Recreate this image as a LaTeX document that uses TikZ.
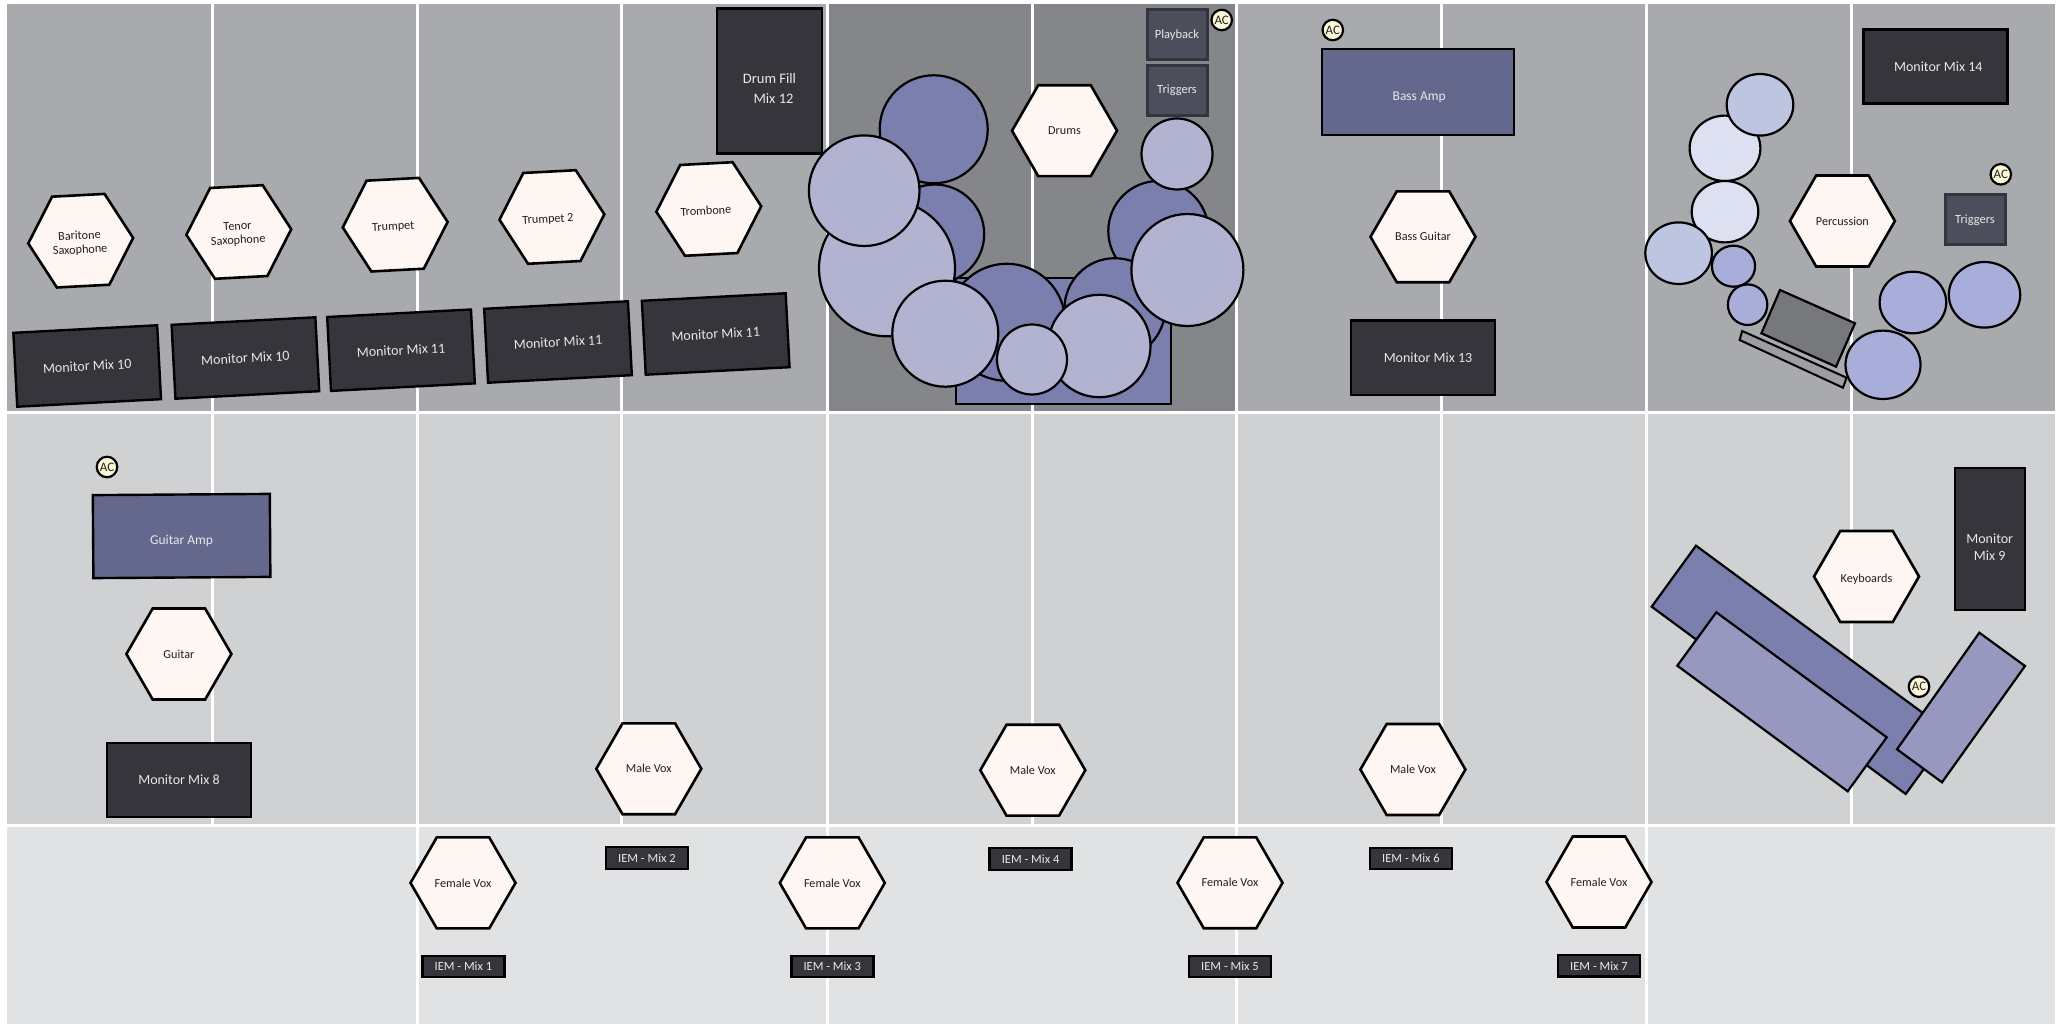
\documentclass[tikz,border=0pt]{standalone}
\usepackage{fontspec}
\setmainfont{Carlito}
\usetikzlibrary{shapes.geometric}
\definecolor{rowA}{HTML}{A9AAAD}
\definecolor{rowD}{HTML}{85868A}
\definecolor{rowB}{HTML}{D0D1D3}
\definecolor{rowC}{HTML}{E1E2E4}
\definecolor{hexfill}{HTML}{FDF6F2}
\definecolor{mon}{HTML}{37353C}
\definecolor{ampc}{HTML}{65688D}
\definecolor{trig}{HTML}{4C4F5B}
\definecolor{trigb}{HTML}{34343C}
\definecolor{acfill}{HTML}{FBF8D8}
\definecolor{drumd}{HTML}{7B7FAE}
\definecolor{druml}{HTML}{B1B3D1}
\definecolor{keyl}{HTML}{9798BF}
\definecolor{perA}{HTML}{BEC5E0}
\definecolor{perB}{HTML}{DCE0F0}
\definecolor{perC}{HTML}{A8ADD9}
\definecolor{laptop}{HTML}{77787C}
\definecolor{inktext}{HTML}{231F20}
\definecolor{lighttext}{HTML}{E8E8E8}
\tikzset{
  hexlab/.style={inner sep=0pt,outer sep=0pt,align=center,text=inktext,font=\fontsize{12.2}{14}\selectfont},
  hexn/.style n args={3}{regular polygon,regular polygon sides=6,minimum size=105pt,inner sep=0pt,
    draw=black,line width=2.6pt,fill=hexfill,yshift=-1pt,rotate=#1,label={[hexlab,rotate=#1,#3]center:#2}},
  boxn/.style={rectangle,inner sep=0pt,draw=black,line width=2.4pt,text=lighttext,align=center},
  monn/.style={boxn,fill=mon,minimum width=144pt,minimum height=74pt,font=\fontsize{14}{17}\selectfont},
  iemn/.style={boxn,fill=mon,minimum width=82pt,minimum height=21.5pt,font=\fontsize{12.5}{14}\selectfont},
  ampn/.style={boxn,fill=ampc},
  trign/.style={boxn,fill=trig,draw=trigb,line width=3pt,minimum width=60pt,minimum height=50pt,font=\fontsize{12.5}{15}\selectfont},
  acn/.style={circle,inner sep=0pt,minimum size=20.5pt,draw=black,line width=2.2pt,fill=acfill,text=inktext,font=\fontsize{13}{14}\selectfont},
  lab/.style={inner sep=0pt,outer sep=0pt,align=center,text=lighttext,font=\fontsize{14}{17}\selectfont},
  dark/.style={draw=black,line width=2.2pt,fill=drumd},
  light/.style={draw=black,line width=2.2pt,fill=druml},
  grid/.style={white,line width=3pt},
}
\begin{document}
\begin{tikzpicture}[x=1pt,y=-1pt]
\useasboundingbox (0,0) rectangle (2065,1024);
\fill[white] (0,0) rectangle (2065,1024);
% zones
\fill[rowA] (7,4) rectangle (2055,411);
\fill[rowD] (827,4) rectangle (1236,411);
\fill[rowB] (7,411) rectangle (2055,825);
\fill[rowC] (7,825) rectangle (2055,1024);
\foreach \x in {212,417,621.5,827,1032,1236,1441,1646,1851}
  \draw[grid] (\x,2) -- (\x,825);
\foreach \x in {417,827,1236,1646}
  \draw[grid] (\x,825) -- (\x,1024);
\draw[grid] (7,412.5) -- (2055,412.5);
\draw[grid] (7,825.5) -- (2055,825.5);
% drum kit
\fill[drumd,draw=black,line width=2.2pt] (956,277.7) rectangle (1171.3,404.3);
\draw[dark] (933.7,129.3) circle (54);
\draw[dark] (934.7,234) circle (49.5);
\draw[light] (887,268.3) circle (68);
\draw[light] (864.2,190.7) circle (55.3);
\draw[dark] (1006.7,322.3) circle (58.5);
\draw[dark] (1158.3,231) circle (50);
\draw[dark] (1114.8,308.5) circle (50.3);
\draw[light] (1187.4,270) circle (56);
\draw[light] (1177,154) circle (35.5);
\draw[light] (945.3,333.7) circle (53);
\draw[light] (1099.3,346) circle (51.2);
\draw[light] (1032,359.5) circle (35);
% percussion
\draw[line width=2.2pt,fill=perB] (1725,148.3) ellipse (35.4 and 32.7);
\draw[line width=2.2pt,fill=perA] (1760,104.8) ellipse (33.3 and 30.8);
\draw[line width=2.2pt,fill=perB] (1725,211.7) ellipse (33.3 and 30.7);
\draw[line width=2.2pt,fill=perA] (1678.6,253.2) ellipse (33.3 and 30.8);
\draw[line width=2.2pt,fill=perC] (1733.5,266.2) ellipse (21.6 and 20.5);
\draw[line width=2.2pt,fill=perC] (1747.6,304.7) ellipse (19.7 and 20.3);
\draw[line width=2.2pt,fill=perC] (1912.9,302.5) ellipse (33.3 and 30.8);
\draw[line width=2.2pt,fill=perC] (1984.5,294.8) ellipse (35.7 and 32.8);
\draw[line width=2.2pt,fill=laptop] (1780,290) -- (1855,323.3) -- (1836,366.7) -- (1761.4,333.3) -- cycle;
\draw[line width=2pt,fill=rowA!93!black] (1742.2,331) -- (1846.6,377.7) -- (1843,387.7) -- (1739.6,340) -- cycle;
\draw[line width=2.2pt,fill=perC] (1883,364.8) ellipse (37.5 and 34.2);
% keyboards
\draw[line width=2.2pt,fill=drumd] (1696,545.7) -- (1950,733) -- (1905.7,794) -- (1651.7,606.7) -- cycle;
\draw[line width=2.2pt,fill=keyl] (1716.3,612.3) -- (1886.7,737.3) -- (1847.7,791.3) -- (1677.3,665.7) -- cycle;
\draw[line width=2.2pt,fill=keyl] (1979.3,632.7) -- (2025,666) -- (1942,782.3) -- (1897,749.3) -- cycle;
% hexagons
\node[hexn={3}{Baritone\\Saxophone}{xshift=-1pt,yshift=-2.5pt}] (bari) at (80.7,239.7) {};
\node[hexn={3}{Tenor\\Saxophone}{xshift=-1pt,yshift=-2pt}] (teno) at (238.8,231) {};
\node[hexn={3}{Trumpet}{xshift=-2pt,yshift=-2.5pt}] (trp1) at (395.2,223.7) {};
\node[hexn={3}{Trumpet 2}{xshift=-4pt,yshift=-2.5pt}] (trp2) at (551.9,216) {};
\node[hexn={3}{Trombone}{xshift=-3pt,yshift=-1.5pt}] (trom) at (708.8,208) {};
\node[hexn={0}{Drums}{}] (drum) at (1064.5,129.7) {};
\node[hexn={0}{Bass Guitar}{}] (bass) at (1423,235.8) {};
\node[hexn={0}{Percussion}{}] (perc) at (1842.4,220) {};
\node[hexn={0}{Keyboards}{yshift=-2.5pt}] (keys) at (1866.5,575.5) {};
\node[hexn={0}{Guitar}{}] (guit) at (178.9,653) {};
\node[hexn={0}{Male Vox}{}] (mv1) at (648.8,767.8) {};
\node[hexn={0}{Male Vox}{}] (mv2) at (1032.8,769.2) {};
\node[hexn={0}{Male Vox}{}] (mv3) at (1412.9,768.5) {};
\node[hexn={0}{Female Vox}{}] (fv1) at (463,881.9) {};
\node[hexn={0}{Female Vox}{}] (fv2) at (832.3,881.9) {};
\node[hexn={0}{Female Vox}{}] (fv3) at (1230,881.8) {};
\node[hexn={0}{Female Vox}{}] (fv4) at (1599,881) {};
% monitors
\node[monn,rotate=3] (m10a) at (87.2,366) {Monitor Mix 10};
\node[monn,rotate=3] (m10b) at (245.4,358) {Monitor Mix 10};
\node[monn,rotate=3] (m11a) at (401,350.2) {Monitor Mix 11};
\node[monn,rotate=3] (m11b) at (558,342) {Monitor Mix 11};
\node[monn,rotate=3] (m11c) at (715.7,334) {Monitor Mix 11};
\node[monn,label={[lab,xshift=5pt]center:Monitor Mix 13}] (m13) at (1423,357.7) {};
\node[monn,label={[lab,xshift=3pt]center:Monitor Mix 14}] (m14) at (1935.3,66.7) {};
\node[monn] (m8) at (179,779.7) {Monitor Mix 8};
\node[monn,minimum width=70pt,minimum height=142pt,label={[lab,yshift=-8pt]center:Monitor\\Mix 9}] (m9) at (1989.7,538.8) {};
\node[monn,minimum width=105pt,minimum height=145pt,label={[lab,font=\fontsize{14.5}{20}\selectfont,yshift=-7pt]center:Drum Fill\\\hspace*{8pt}Mix 12}] (fill) at (769.5,81) {};
% IEM
\node[iemn] (iem1) at (463.4,966.5) {IEM - Mix 1};
\node[iemn] (iem2) at (647,858) {IEM - Mix 2};
\node[iemn] (iem3) at (832.3,966.5) {IEM - Mix 3};
\node[iemn] (iem4) at (1030.6,859) {IEM - Mix 4};
\node[iemn] (iem5) at (1230,966.5) {IEM - Mix 5};
\node[iemn] (iem6) at (1411,858.5) {IEM - Mix 6};
\node[iemn] (iem7) at (1599,965.8) {IEM - Mix 7};
% amps
\node[ampn,minimum width=192pt,minimum height=86pt,label={[lab,font=\fontsize{13.5}{17}\selectfont,xshift=1pt,yshift=-5pt]center:Bass Amp}] (bamp) at (1418.2,92.3) {};
\node[ampn,minimum width=177pt,minimum height=83pt,rotate=0.4,label={[lab,font=\fontsize{13.5}{17}\selectfont,yshift=-5pt]center:Guitar Amp}] (gamp) at (181.6,536) {};
% triggers
\node[trign] (play) at (1177,35) {Playback};
\node[trign] (trg1) at (1177,90.5) {Triggers};
\node[trign] (trg2) at (1975,220) {Triggers};
% AC
\node[acn] (ac1) at (1221.7,20) {AC};
\node[acn] (ac2) at (1332.8,30) {AC};
\node[acn] (ac3) at (2000.8,174.3) {AC};
\node[acn] (ac4) at (107,467) {AC};
\node[acn] (ac5) at (1919,686.7) {AC};
\end{tikzpicture}
\end{document}
